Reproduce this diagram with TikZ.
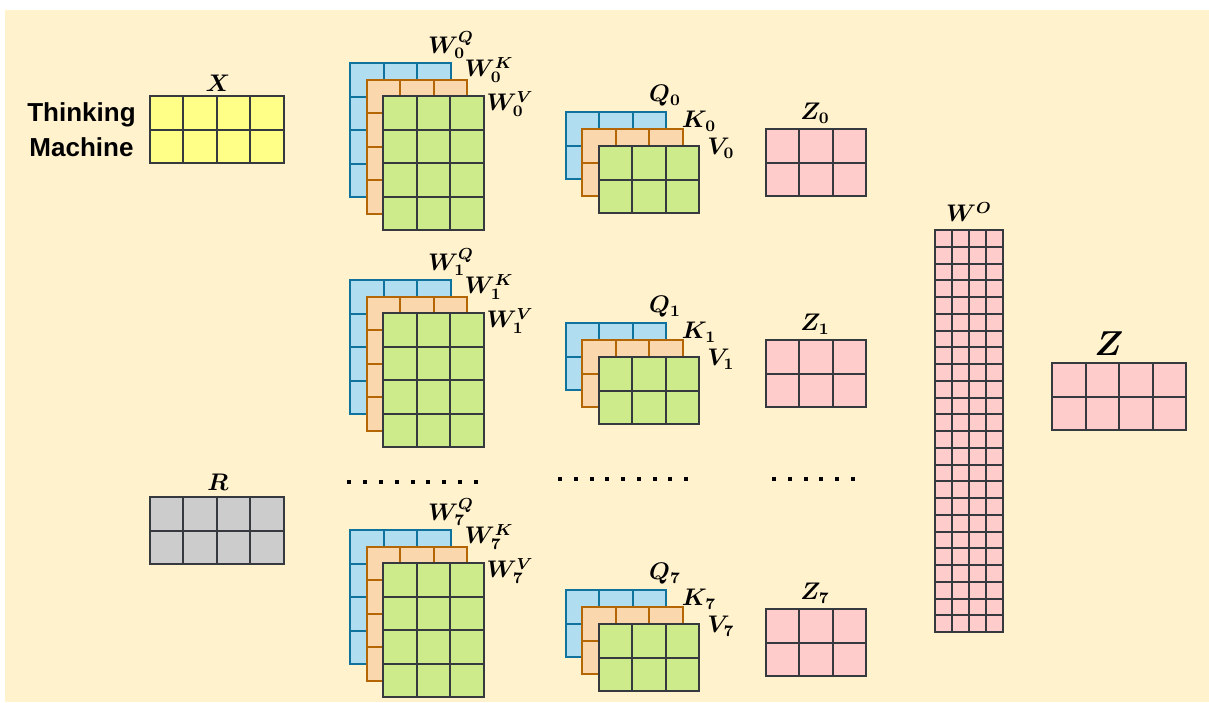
\documentclass[tikz,border=0pt]{standalone}
\usepackage{fontspec}
\usepackage{bm}
\newfontfamily\tmsans{Liberation Sans}
\usetikzlibrary{fit}
\definecolor{TMBack}{HTML}{FFF2CC}
\definecolor{TMBlue}{HTML}{B1DDF0}
\definecolor{TMBlueLine}{HTML}{10739E}
\definecolor{TMOrange}{HTML}{FAD7AC}
\definecolor{TMOrangeLine}{HTML}{B46504}
\definecolor{TMGreen}{HTML}{CDEB8B}
\definecolor{TMPink}{HTML}{FFCCCC}
\definecolor{TMYellow}{HTML}{FFFF88}
\definecolor{TMGray}{HTML}{CCCCCC}
\definecolor{TMLine}{HTML}{36393D}
\tikzset{
  cell/.style={draw=TMLine,line width=1pt},
  cellblue/.style={cell,fill=TMBlue,draw=TMBlueLine},
  cellorange/.style={cell,fill=TMOrange,draw=TMOrangeLine},
  cellgreen/.style={cell,fill=TMGreen},
  cellpink/.style={cell,fill=TMPink},
  cellyellow/.style={cell,fill=TMYellow},
  cellgray/.style={cell,fill=TMGray},
  lab/.style={font=\fontsize{12}{14}\selectfont,inner sep=0pt},
  wlab/.style={font=\fontsize{11.5}{14}\selectfont,inner sep=0pt},
  biglab/.style={font=\fontsize{16}{19}\selectfont,inner sep=0pt},
  sidetext/.style={font=\tmsans\bfseries\fontsize{13}{17.5}\selectfont,align=center,inner sep=0pt},
  dot/.style={fill=black},
}
% name, style, x, y, cols, rows, cell width, cell height
\newcommand\mat[8]{%
  \pgfmathtruncatemacro\matc{#5-1}%
  \pgfmathtruncatemacro\matr{#6-1}%
  \foreach \i in {0,...,\matc}
    \foreach \j in {0,...,\matr}
      \draw[#2] ({#3+\i*#7},{#4+\j*#8}) rectangle ++(#7,#8);
  \node[fit={(#3,#4) ({#3+#5*#7},{#4+#6*#8})},inner sep=0pt] (#1) {};
}
\begin{document}
\begin{tikzpicture}[x=0.5pt,y=-0.5pt]
  \useasboundingbox (0,0) rectangle (1209,702);
  \fill[TMBack] (5,10) rectangle (1209,702);

  \node[sidetext] (input) at (81.5,130) {Thinking\\Machine};
  \mat{X}{cellyellow}{150}{96}{4}{2}{33.4}{33.5}
  \node[lab] (Xlab) at (218,83) {$\bm{X}$};
  \mat{R}{cellgray}{150}{497}{4}{2}{33.4}{33.5}
  \node[lab] (Rlab) at (218,482) {$\bm{R}$};

  \foreach \h/\dy in {0/0,1/217,7/467}{
    \mat{wq\h}{cellblue}{350}{63+\dy}{3}{4}{33.5}{33.5}
    \mat{wk\h}{cellorange}{366.5}{79.5+\dy}{3}{4}{33.5}{33.5}
    \mat{wv\h}{cellgreen}{383}{96+\dy}{3}{4}{33.5}{33.5}
    \node[wlab] (wql\h) at (451,{45+\dy}) {$\bm{W_{\h}^{Q}}$};
    \node[wlab] (wkl\h) at (489,{70+\dy}) {$\bm{W_{\h}^{K}}$};
    \node[wlab] (wvl\h) at (510,{104+\dy}) {$\bm{W_{\h}^{V}}$};
  }

  \foreach \h/\dy in {0/0,1/211,7/478}{
    \mat{q\h}{cellblue}{565.5}{112+\dy}{3}{2}{33.5}{33.5}
    \mat{k\h}{cellorange}{582}{129+\dy}{3}{2}{33.5}{33.5}
    \mat{v\h}{cellgreen}{598.5}{146+\dy}{3}{2}{33.5}{33.5}
    \node[lab] (ql\h) at (665,{96+\dy}) {$\bm{Q_{\h}}$};
    \node[lab] (kl\h) at (699,{121+\dy}) {$\bm{K_{\h}}$};
    \node[lab] (vl\h) at (721,{148+\dy}) {$\bm{V_{\h}}$};
  }

  \foreach \h/\dy in {0/0,1/211,7/480}{
    \mat{z\h}{cellpink}{765.5}{129+\dy}{3}{2}{33.5}{33.5}
    \node[lab] (zl\h) at (815,{113+\dy}) {$\bm{Z_{\h}}$};
  }

  \foreach \k in {0,...,8}
    \fill[dot] ({349+\k*15.875-2},480) rectangle ++(4,4);
  \foreach \k in {0,...,8}
    \fill[dot] ({560+\k*15.75-2},477) rectangle ++(4,4);
  \foreach \k in {0,...,5}
    \fill[dot] ({774+\k*15.8-2},477) rectangle ++(4,4);

  \mat{WO}{cellpink}{935}{230}{4}{24}{17}{16.75}
  \node[lab] (WOlab) at (969,212) {$\bm{W^{O}}$};

  \mat{Z}{cellpink}{1052}{363}{4}{2}{33.5}{33.5}
  \node[biglab] (Zlab) at (1109,344) {$\bm{Z}$};
\end{tikzpicture}
\end{document}
